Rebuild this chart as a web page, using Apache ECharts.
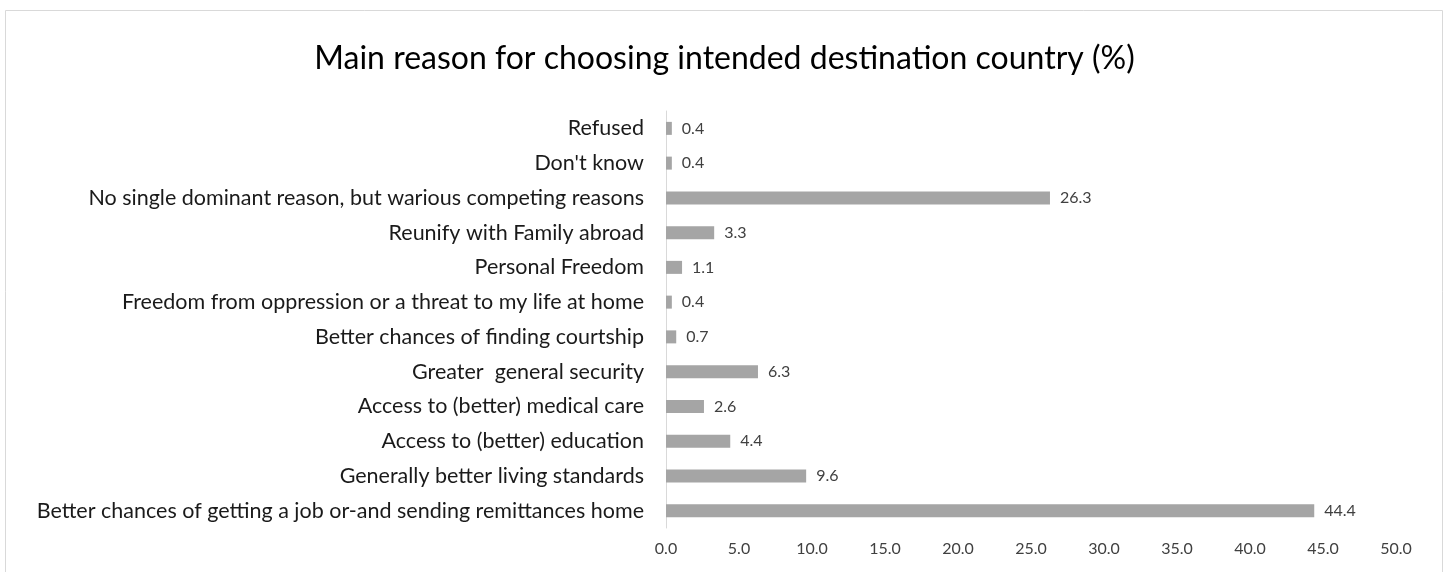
<!DOCTYPE html>
<html><head><meta charset="utf-8">
<script src="https://cdn.jsdelivr.net/npm/echarts@6/dist/echarts.min.js"></script>
<style>html,body{margin:0;padding:0;background:#fff}#c{width:1449px;height:572px}</style>
</head><body><div id="c"></div>
<script>
const categories = [
  "Better chances of getting a job or-and sending remittances home",
  "Generally better living standards",
  "Access to (better) education",
  "Access to (better) medical care",
  "Greater  general security",
  "Better chances of finding courtship",
  "Freedom from oppression or a threat to my life at home",
  "Personal Freedom",
  "Reunify with Family abroad",
  "No single dominant reason, but warious competing reasons",
  "Don't know",
  "Refused"
];
const values = [44.4, 9.6, 4.4, 2.6, 6.3, 0.7, 0.4, 1.1, 3.3, 26.3, 0.4, 0.4];
const title = "Main reason for choosing intended destination country (%)";

const F = 'Lato';
const chart = echarts.init(document.getElementById('c'));
chart.setOption({
  animation: false,
  backgroundColor: '#fff',
  graphic: [{type:'rect', shape:{x:5.5,y:10.5,width:1437,height:580}, style:{fill:'none',stroke:'#d9d9d9',lineWidth:1}, silent:true}],
  title: {text: title, left: 'center', top: 38, textStyle:{fontFamily:F, fontSize:32, fontWeight:'normal', color:'#000'}},
  grid: {left: 666, right: 53, top: 111, bottom: 44, containLabel:false},
  xAxis: {type:'value', min:0, max:50, interval:5,
    axisLine:{show:false}, axisTick:{show:false}, splitLine:{show:false},
    axisLabel:{formatter: v => v.toFixed(1), fontFamily:F, fontSize:16, color:'#404040', margin:13}},
  yAxis: {type:'category', data: categories,
    axisLine:{show:true, lineStyle:{color:'#d9d9d9'}}, axisTick:{show:false},
    axisLabel:{fontFamily:F, fontSize:21.5, color:'#1a1a1a', margin:22}},
  series: [{type:'bar', data: values, barWidth:13, itemStyle:{color:'#a5a5a5'},
    label:{show:true, position:'right', distance:10, formatter: p => p.value.toFixed(1), fontFamily:F, fontSize:16, color:'#404040'}}]
});
</script></body></html>
